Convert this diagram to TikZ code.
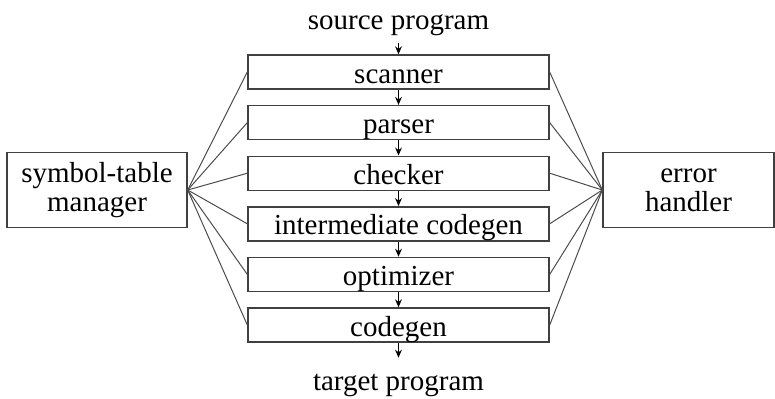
\documentclass[tikz,border=0pt]{standalone}
\usepackage{fontspec}
\setmainfont{Liberation Serif}
\usepackage{tikz}
\usetikzlibrary{positioning, arrows.meta}

\begin{document}
\begin{tikzpicture}[x=0.5pt, y=-0.5pt,
  every node/.style={font=\fontsize{14.5}{14.5}\selectfont},
  stage/.style={draw=black!75, line width=0.7pt, minimum width=150.5pt, minimum height=17pt,
    text height=11pt, text depth=0pt, inner sep=0pt},
  side/.style={draw=black!75, line width=0.7pt, minimum height=37.5pt, align=center, inner sep=0pt},
  flow/.style={-{Stealth[length=4pt, width=3.4pt]}, line width=0.6pt},
  link/.style={draw=black!70, line width=0.5pt}]
\useasboundingbox (0,0) rectangle (775,398);
\node[stage] (scan) at (398.5,72) {scanner};
\node[stage, below=7.6pt of scan] (pars) {parser};
\node[stage, below=7.6pt of pars] (chk) {checker};
\node[stage, below=7.6pt of chk] (inter) {intermediate codegen};
\node[stage, below=7.6pt of inter] (opt) {optimizer};
\node[stage, below=7.6pt of opt] (cgen) {codegen};
\node[inner sep=0pt, above=9pt of scan] (src) {source program};
\node[inner sep=0pt, below=15.5pt of cgen] (tgt) {target program};
\node[side, minimum width=90pt] (sym) at (97,190) {symbol-table\\manager};
\node[side, minimum width=85.5pt] (err) at (688.5,190) {error\\handler};
% pipeline
\draw[flow, shorten <=3.5pt] (src) -- (scan);
\draw[flow] (scan) -- (pars);
\draw[flow] (pars) -- (chk);
\draw[flow] (chk) -- (inter);
\draw[flow] (inter) -- (opt);
\draw[flow] (opt) -- (cgen);
\draw[flow, shorten >=8pt] (cgen) -- (tgt);
% side links
\foreach \s in {scan, pars, chk, inter, opt, cgen} {
  \draw[link] (sym.east) -- (\s.west);
  \draw[link] (err.west) -- (\s.east);
}
\end{tikzpicture}
\end{document}
